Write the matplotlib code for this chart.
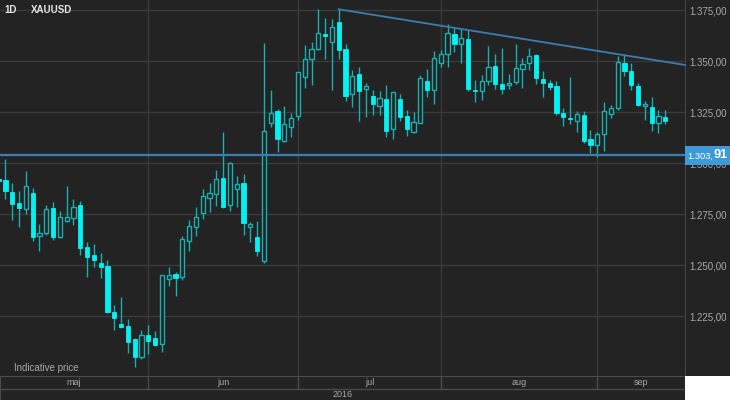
import numpy as np
import pandas as pd
import matplotlib
matplotlib.use('Agg')
import matplotlib.pyplot as plt
import matplotlib.transforms as mtransforms
from matplotlib.patches import Rectangle

# Daily XAUUSD candles, 2 May - 15 Sep 2016
dates = pd.bdate_range('2016-05-02', '2016-09-15')

opens = [1292.4, 1291.8, 1285.9, 1280.4, 1277.7, 1285.6, 1264.4, 1266.0, 1277.9, 1263.7,
         1271.6, 1273.3, 1279.6, 1258.8, 1255.0, 1251.1, 1249.8, 1227.3, 1221.2, 1220.2,
         1213.7, 1204.9, 1215.7, 1214.5, 1211.3, 1243.3, 1245.7, 1244.1, 1262.1, 1268.6,
         1275.5, 1283.1, 1285.0, 1292.6, 1279.6, 1287.5, 1290.5, 1268.8, 1263.7, 1252.3,
         1319.9, 1325.6, 1310.9, 1317.6, 1323.3, 1342.2, 1351.0, 1356.0, 1363.4, 1359.6,
         1369.3, 1355.9, 1333.8, 1343.8, 1336.4, 1333.0, 1328.2, 1331.7, 1316.7, 1331.4,
         1323.3, 1315.3, 1319.9, 1340.5, 1335.9, 1349.0, 1353.4, 1363.4, 1358.3, 1360.8,
         1335.9, 1335.6, 1340.5, 1347.7, 1338.7, 1338.2, 1340.0, 1346.1, 1349.0, 1353.1,
         1341.2, 1339.5, 1337.9, 1324.5, 1322.4, 1320.7, 1323.7, 1312.1, 1309.1, 1314.2,
         1324.0, 1327.0, 1349.0, 1345.4, 1338.0, 1328.1, 1327.7, 1319.6, 1322.5]

highs = [1294.0, 1302.1, 1290.2, 1286.4, 1296.1, 1288.0, 1270.2, 1279.6, 1281.2, 1276.8,
         1288.9, 1282.5, 1281.5, 1261.6, 1260.4, 1256.2, 1252.6, 1230.5, 1234.6, 1223.7,
         1214.2, 1218.3, 1220.7, 1217.9, 1245.2, 1249.3, 1246.9, 1264.4, 1272.2, 1278.4,
         1287.3, 1290.2, 1296.7, 1315.5, 1300.5, 1293.8, 1294.8, 1271.4, 1271.9, 1359.1,
         1335.9, 1326.5, 1328.1, 1324.5, 1344.9, 1358.0, 1359.3, 1375.5, 1371.1, 1370.6,
         1375.5, 1358.3, 1345.7, 1347.4, 1339.5, 1335.9, 1335.4, 1338.4, 1335.0, 1334.0,
         1326.1, 1325.0, 1343.3, 1346.1, 1355.2, 1355.5, 1368.1, 1366.5, 1365.7, 1365.3,
         1340.8, 1343.3, 1357.5, 1353.6, 1356.4, 1343.8, 1358.5, 1351.8, 1356.4, 1353.6,
         1345.2, 1340.8, 1340.5, 1327.0, 1342.5, 1325.8, 1325.6, 1316.3, 1315.5, 1330.2,
         1328.6, 1352.6, 1353.1, 1349.3, 1339.5, 1330.5, 1332.6, 1326.1, 1326.1]

lows = [1289.0, 1282.5, 1272.2, 1268.9, 1275.0, 1262.1, 1257.2, 1264.9, 1262.4, 1263.2,
        1271.4, 1269.6, 1255.0, 1244.4, 1249.3, 1243.6, 1226.5, 1218.3, 1219.1, 1206.9,
        1200.3, 1204.0, 1206.5, 1210.5, 1207.4, 1240.0, 1235.0, 1242.8, 1257.2, 1264.4,
        1272.7, 1276.3, 1279.1, 1277.9, 1276.8, 1278.4, 1264.9, 1261.6, 1254.6, 1251.3,
        1317.9, 1305.7, 1310.6, 1313.0, 1321.2, 1336.8, 1338.4, 1355.5, 1351.0, 1335.9,
        1351.0, 1330.5, 1327.7, 1320.7, 1322.8, 1323.7, 1323.7, 1313.0, 1311.8, 1320.9,
        1313.4, 1315.0, 1319.6, 1332.6, 1328.9, 1347.1, 1347.4, 1354.7, 1349.3, 1335.6,
        1329.9, 1331.0, 1338.4, 1336.3, 1334.0, 1336.3, 1338.9, 1336.8, 1345.7, 1338.9,
        1332.4, 1335.9, 1323.7, 1318.4, 1319.3, 1315.5, 1310.1, 1305.2, 1303.2, 1306.2,
        1322.4, 1326.1, 1342.9, 1335.9, 1328.1, 1321.2, 1316.0, 1315.0, 1319.3]

closes = [1291.5, 1286.6, 1280.0, 1278.2, 1288.7, 1263.7, 1265.7, 1277.6, 1263.7, 1273.5,
          1273.8, 1278.7, 1258.3, 1254.2, 1252.6, 1249.0, 1227.0, 1224.0, 1219.9, 1212.5,
          1204.9, 1215.7, 1213.0, 1210.9, 1245.2, 1245.1, 1243.6, 1262.7, 1269.4, 1273.8,
          1284.1, 1285.3, 1292.2, 1278.4, 1300.0, 1290.0, 1270.6, 1270.2, 1257.2, 1315.8,
          1324.8, 1311.8, 1319.1, 1322.2, 1344.6, 1351.3, 1356.2, 1363.7, 1362.4, 1367.0,
          1355.5, 1333.0, 1342.8, 1335.6, 1338.0, 1328.9, 1332.2, 1315.8, 1334.8, 1322.8,
          1316.7, 1320.4, 1342.0, 1335.9, 1351.8, 1353.6, 1363.7, 1358.3, 1361.3, 1336.3,
          1335.4, 1340.5, 1347.1, 1338.7, 1336.3, 1339.5, 1346.6, 1348.7, 1352.7, 1341.7,
          1339.2, 1337.3, 1324.8, 1322.5, 1321.6, 1324.0, 1310.9, 1309.0, 1314.5, 1325.6,
          1327.0, 1349.8, 1345.4, 1338.4, 1328.6, 1329.1, 1319.6, 1323.2, 1320.9]

last_price = 1303.91
trend_start_date = '2016-07-11'
trend_start_price = 1375.5
trend_end_price = 1348.2      # where the trend line leaves the chart on the right
price_ticks = [1225, 1250, 1275, 1300, 1325, 1350, 1375]
month_names = ['maj', 'jun', 'jul', 'aug', 'sep']
year_label = '2016'

# Colours
BG = '#232323'
GRID = '#3a3a3a'
CYAN = '#00f2f2'
TEAL = '#19aeb0'
LINE_BLUE = '#3b7db3'
BOX_BLUE = '#3c9ad8'
TEXT = '#a8a8a8'
BORDER = '#4a4a4a'


def fmt_price(v):
    # 1375.0 -> "1.375,00"
    return f"{v:,.2f}".replace(',', 'X').replace('.', ',').replace('X', '.')


plt.rcParams['font.family'] = ['Liberation Sans', 'DejaVu Sans']

fig = plt.figure(figsize=(7.3, 4.0), dpi=100, facecolor=BG)
plot_w = 685 / 730
bottom_h = 24 / 400
ax = fig.add_axes([0, bottom_h, plot_w, 1 - bottom_h])
ax.set_facecolor(BG)

x = np.arange(len(dates))
xlim = (0.2, 100.9)
ax.set_xlim(*xlim)
ax.set_ylim(1195.7, 1380.05)

# Candles: hollow when up, filled when down
w = 0.62
for i in x:
    o, h, l, c = opens[i], highs[i], lows[i], closes[i]
    ax.vlines(i, l, h, color=TEAL, lw=1.0, zorder=2)
    if c >= o:
        ax.add_patch(Rectangle((i - w / 2, o), w, max(c - o, 0.5), facecolor=BG,
                               edgecolor=TEAL, lw=1.0, zorder=3))
    else:
        ax.add_patch(Rectangle((i - w / 2, c), w, max(o - c, 0.5), facecolor=CYAN,
                               edgecolor=CYAN, lw=0.6, zorder=3))

# Grid: horizontal at price ticks, vertical at first trading day of each month
month_starts = [i for i in range(1, len(dates)) if dates[i].month != dates[i - 1].month]
for p in price_ticks:
    ax.axhline(p, color=GRID, lw=1.0, zorder=1)
for m in month_starts:
    ax.axvline(m, color=GRID, lw=1.0, zorder=1)

# Right axis labels
ax.yaxis.tick_right()
ax.set_yticks(price_ticks)
ax.set_yticklabels([fmt_price(p) for p in price_ticks])
ax.tick_params(axis='y', length=0, pad=3, labelsize=7, labelcolor=TEXT)
ax.set_xticks([])
for side in ['top', 'left', 'bottom']:
    ax.spines[side].set_visible(False)
ax.spines['right'].set_color('#444444')

# Trend line and last price line
t0 = dates.get_loc(pd.Timestamp(trend_start_date))
ax.plot([t0, xlim[1]], [trend_start_price, trend_end_price], color=LINE_BLUE, lw=1.3,
        zorder=4, clip_on=False)
ax.axhline(last_price, color=LINE_BLUE, lw=1.6, zorder=4)

# Last price box on the right
y_pix = ax.transData.transform((0, last_price))[1]
box_h = 19
fig.patches.append(Rectangle((plot_w, (y_pix - box_h / 2) / 400), 1 - plot_w, box_h / 400,
                             transform=fig.transFigure, facecolor=BOX_BLUE, edgecolor='none',
                             zorder=5))
label = fmt_price(last_price)
main_part, frac_part = label[:-2], label[-2:]
fig.text(687.5 / 730, (y_pix - 1) / 400, main_part, color='white', fontsize=6.7,
         va='center', ha='left', zorder=6)
fig.text(713.5 / 730, (y_pix + 0.5) / 400, frac_part, color='white', fontsize=9.2,
         fontweight='bold', va='center', ha='left', zorder=6)

# Titles inside the plot
ax.text(0.9, 1375.1, '1D', color='#e6e6e6', fontsize=7, fontweight='bold', va='center')
ax.text(4.7, 1375.1, 'XAUUSD', color='#e6e6e6', fontsize=7, fontweight='bold', va='center')
ax.text(2.2, 0.008, 'Indicative price', color=TEXT, fontsize=7, va='bottom',
        transform=mtransforms.blended_transform_factory(ax.transData, ax.transAxes))

# Month / year rows under the chart
axb = fig.add_axes([0, 0, plot_w, bottom_h])
axb.set_facecolor(BG)
axb.set_xlim(*xlim)
axb.set_ylim(0, 1)
axb.set_xticks([])
axb.set_yticks([])
for s in axb.spines.values():
    s.set_color(BORDER)
split = 11.5 / 24
axb.axhline(split, color=BORDER, lw=1.0)
axb.axhline(1, color=BORDER, lw=1.5)
edges = [xlim[0]] + month_starts + [xlim[1]]
for m in month_starts:
    axb.plot([m, m], [split, 1], color=BORDER, lw=1.0)
for k, name in enumerate(month_names):
    axb.text((edges[k] + edges[k + 1]) / 2, (split + 1) / 2, name, color=TEXT, fontsize=6.5,
             ha='center', va='center')
axb.text(sum(xlim) / 2, split / 2, year_label, color=TEXT, fontsize=6.5, ha='center',
         va='center')

# White corner under the price axis
fig.patches.append(Rectangle((plot_w, 0), 1 - plot_w, bottom_h, transform=fig.transFigure,
                             facecolor='white', edgecolor='none'))

fig.savefig('out.png', dpi=100, facecolor=BG)
